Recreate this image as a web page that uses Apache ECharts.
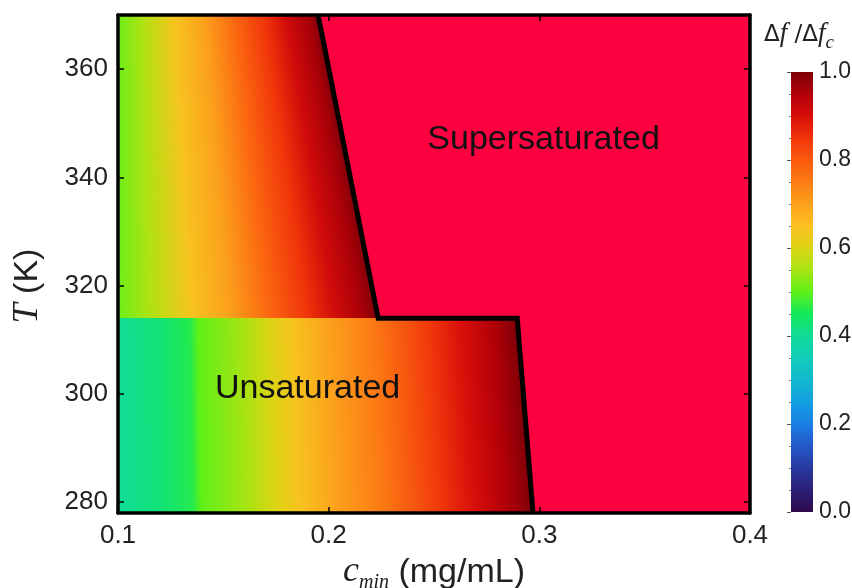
<!DOCTYPE html>
<html>
<head>
<meta charset="utf-8">
<script src="https://cdn.jsdelivr.net/npm/echarts@6/dist/echarts.min.js"></script>
<style>
  html, body { margin: 0; padding: 0; background: #fff; }
  #chart { width: 852px; height: 588px; }
</style>
</head>
<body>
<div id="chart"></div>
<script>
const concTicks = [0.1, 0.2, 0.3, 0.4];
const tempTicks = [280, 300, 320, 340, 360];

// phase boundary (black line), from top to bottom
const boundaryC = [0.195, 0.2235, 0.2895, 0.297];
const boundaryT = [370, 314, 314, 278];

// colour across each unsaturated band: fraction of the way from c=0.1 to the boundary -> Δf/Δfc
const upperPos = [0, 0.13, 0.28, 0.43, 0.58, 0.73, 0.84, 0.95, 1];
const upperVal = [0.51, 0.56, 0.64, 0.70, 0.78, 0.85, 0.91, 0.96, 1.0];
const lowerPos = [0, 0.11, 0.18, 0.2, 0.32, 0.38, 0.435, 0.53, 0.65, 0.77, 0.86, 0.94, 1];
const lowerVal = [0.40, 0.43, 0.46, 0.50, 0.555, 0.6, 0.64, 0.7, 0.76, 0.84, 0.9, 0.95, 1.0];

// region labels
const labelText = ['Supersaturated', 'Unsaturated'];
const labelC = [0.302, 0.19];
const labelT = [347, 301];

// colour scale, evenly spaced from 0 to 1
const colormap = ['#2e0a4c', '#2c1e78', '#2a3aa0', '#2458c8', '#1a7ee4', '#14a0e0', '#12b8d0',
  '#12ccb8', '#10dc98', '#14e85a', '#5ef018', '#a8e412', '#dcd414', '#fcc020', '#fca01c',
  '#fc7c14', '#fa5a0e', '#f0340a', '#d80e0a', '#b00008', '#7e0008'];
const superColor = '#fc0040';

const regions = [
  { tLow: boundaryT[1], tHigh: boundaryT[0], cLow: boundaryC[1], cHigh: boundaryC[0], pos: upperPos, val: upperVal },
  { tLow: boundaryT[3], tHigh: boundaryT[2], cLow: boundaryC[3], cHigh: boundaryC[2], pos: lowerPos, val: lowerVal }
];

const chart = echarts.init(document.getElementById('chart'));

const renderBand = (params, api) => {
  const r = regions[params.dataIndex];
  const pBot = api.coord([r.cLow, r.tLow]);
  const pTop = api.coord([r.cHigh, r.tHigh]);
  const x0 = api.coord([concTicks[0], r.tLow])[0];
  const stops = r.pos.map((p, i) => ({ offset: p, color: echarts.color.lerp(r.val[i], colormap) }));
  const children = [];
  const step = 2;
  const yStart = Math.round(pTop[1]);
  const yEnd = Math.round(pBot[1]);
  // thin horizontal strips (whole pixels) so the gradient follows the slanted boundary
  for (let y = yStart; y < yEnd; y += step) {
    const h = Math.min(step, yEnd - y);
    const t = (y + h / 2 - pTop[1]) / (pBot[1] - pTop[1]);
    const xr = pTop[0] + (pBot[0] - pTop[0]) * t;
    children.push({
      type: 'rect',
      shape: { x: x0, y: y, width: xr - x0, height: h + 1 },
      style: { fill: new echarts.graphic.LinearGradient(0, 0, 1, 0, stops) },
      silent: true
    });
  }
  return { type: 'group', children };
};

const renderSuper = (params, api) => {
  const pts = boundaryC.map((c, i) => api.coord([c, boundaryT[i]]));
  pts.push(api.coord([concTicks[concTicks.length - 1], boundaryT[boundaryT.length - 1]]));
  pts.push(api.coord([concTicks[concTicks.length - 1], boundaryT[0]]));
  return { type: 'polygon', shape: { points: pts }, style: { fill: superColor }, silent: true };
};

const renderLabel = (params, api) => {
  const p = api.coord([labelC[params.dataIndex], labelT[params.dataIndex]]);
  return {
    type: 'text', x: p[0], y: p[1],
    style: {
      text: labelText[params.dataIndex], fill: '#111', fontSize: 34,
      fontFamily: 'Liberation Sans', align: 'center', verticalAlign: 'middle'
    },
    silent: true
  };
};

const renderColorbar = (params, api) => {
  const p0 = api.coord([0, 1]);
  const p1 = api.coord([1, 0]);
  const n = colormap.length;
  const stops = colormap.slice().reverse().map((c, i) => ({ offset: i / (n - 1), color: c }));
  return {
    type: 'rect',
    shape: { x: p0[0], y: p0[1], width: p1[0] - p0[0], height: p1[1] - p0[1] },
    style: { fill: new echarts.graphic.LinearGradient(0, 0, 0, 1, stops) },
    silent: true
  };
};

const tickFont = { fontSize: 26, color: '#222', fontFamily: 'Liberation Sans' };
const frameLine = { lineStyle: { color: '#000', width: 3.5 } };
const inTick = { inside: true, length: 6, lineStyle: { color: '#000', width: 1.5 } };

const options = {
  animation: false,
  backgroundColor: '#fff',
  grid: [
    { left: 118, top: 15, width: 632, height: 498, outerBoundsMode: 'none', containLabel: false },
    { left: 791, top: 72, width: 22, height: 440, outerBoundsMode: 'none', containLabel: false }
  ],
  xAxis: [
    {
      type: 'value', gridIndex: 0, position: 'bottom', min: 0.1, max: 0.4, interval: 0.1, z: 10,
      axisLine: frameLine, axisTick: inTick, splitLine: { show: false },
      axisLabel: { ...tickFont, margin: 10, formatter: v => v.toFixed(1) },
      name: '{i|c}{s|min}{n| (mg/mL)}', nameLocation: 'middle', nameGap: 33,
      nameTextStyle: {
        rich: {
          i: { fontSize: 36, fontStyle: 'italic', fontFamily: 'Liberation Serif', color: '#222', verticalAlign: 'bottom', padding: [0, 0, 3, 0] },
          s: { fontSize: 20, fontStyle: 'italic', fontFamily: 'Liberation Serif', color: '#222', verticalAlign: 'bottom' },
          n: { fontSize: 34, fontFamily: 'Liberation Sans', color: '#222', verticalAlign: 'bottom', padding: [0, 0, 3, 0] }
        }
      }
    },
    {
      type: 'value', gridIndex: 0, position: 'top', min: 0.1, max: 0.4, interval: 0.1, z: 10,
      axisLine: frameLine, axisTick: inTick, axisLabel: { show: false }, splitLine: { show: false }
    },
    { type: 'value', gridIndex: 1, min: 0, max: 1, show: false }
  ],
  yAxis: [
    {
      type: 'value', gridIndex: 0, position: 'left', min: 278, max: 370, z: 10,
      axisLine: frameLine, axisTick: { ...inTick, customValues: tempTicks }, splitLine: { show: false },
      axisLabel: { ...tickFont, margin: 10, customValues: tempTicks },
      name: '{i|T}{n| (K)}', nameLocation: 'middle', nameGap: 72,
      nameTextStyle: {
        padding: [0, 44, 0, 0],
        rich: {
          i: { fontSize: 36, fontStyle: 'italic', fontFamily: 'Liberation Serif', color: '#222' },
          n: { fontSize: 34, fontFamily: 'Liberation Sans', color: '#222' }
        }
      }
    },
    {
      type: 'value', gridIndex: 0, position: 'right', min: 278, max: 370, z: 10,
      axisLine: frameLine, axisTick: { ...inTick, customValues: tempTicks },
      axisLabel: { show: false }, splitLine: { show: false }
    },
    {
      type: 'value', gridIndex: 1, position: 'right', min: 0, max: 1, interval: 0.2, z: 10,
      axisLine: { show: false }, splitLine: { show: false },
      axisTick: { inside: true, length: 4, lineStyle: { color: '#555' } },
      minorTick: { show: true, splitNumber: 4, length: 2, lineStyle: { color: '#777' } },
      axisLabel: { fontSize: 23, color: '#222', fontFamily: 'Liberation Sans', margin: 6, formatter: v => v.toFixed(1) }
    }
  ],
  graphic: [
    {
      type: 'text', left: 764, top: 20,
      style: {
        text: '{d|Δ}{f|f}{d| /Δ}{f|f}{s|c}',
        rich: {
          d: { fontSize: 23, fontFamily: 'DejaVu Sans', fill: '#222', verticalAlign: 'bottom', padding: [0, 0, 5, 0] },
          f: { fontSize: 27, fontStyle: 'italic', fontFamily: 'Liberation Serif', fill: '#222', verticalAlign: 'bottom', padding: [0, 0, 5, 0] },
          s: { fontSize: 19, fontStyle: 'italic', fontFamily: 'Liberation Serif', fill: '#222', verticalAlign: 'bottom' }
        }
      }
    }
  ],
  series: [
    {
      type: 'custom', xAxisIndex: 0, yAxisIndex: 0, renderItem: renderBand,
      data: regions.map(r => [concTicks[0], r.tLow]), z: 1
    },
    {
      type: 'custom', xAxisIndex: 0, yAxisIndex: 0, renderItem: renderSuper,
      data: [[boundaryC[0], boundaryT[0]]], z: 1
    },
    {
      type: 'line', xAxisIndex: 0, yAxisIndex: 0, symbol: 'none', silent: true,
      data: boundaryC.map((c, i) => [c, boundaryT[i]]),
      lineStyle: { color: '#000', width: 5, join: 'miter' }, z: 3
    },
    {
      type: 'custom', xAxisIndex: 0, yAxisIndex: 0, renderItem: renderLabel,
      data: labelC.map((c, i) => [c, labelT[i]]), z: 4
    },
    {
      type: 'custom', xAxisIndex: 2, yAxisIndex: 2, renderItem: renderColorbar,
      data: [[0, 0]], z: 1
    }
  ]
};

chart.setOption(options);
</script>
</body>
</html>
